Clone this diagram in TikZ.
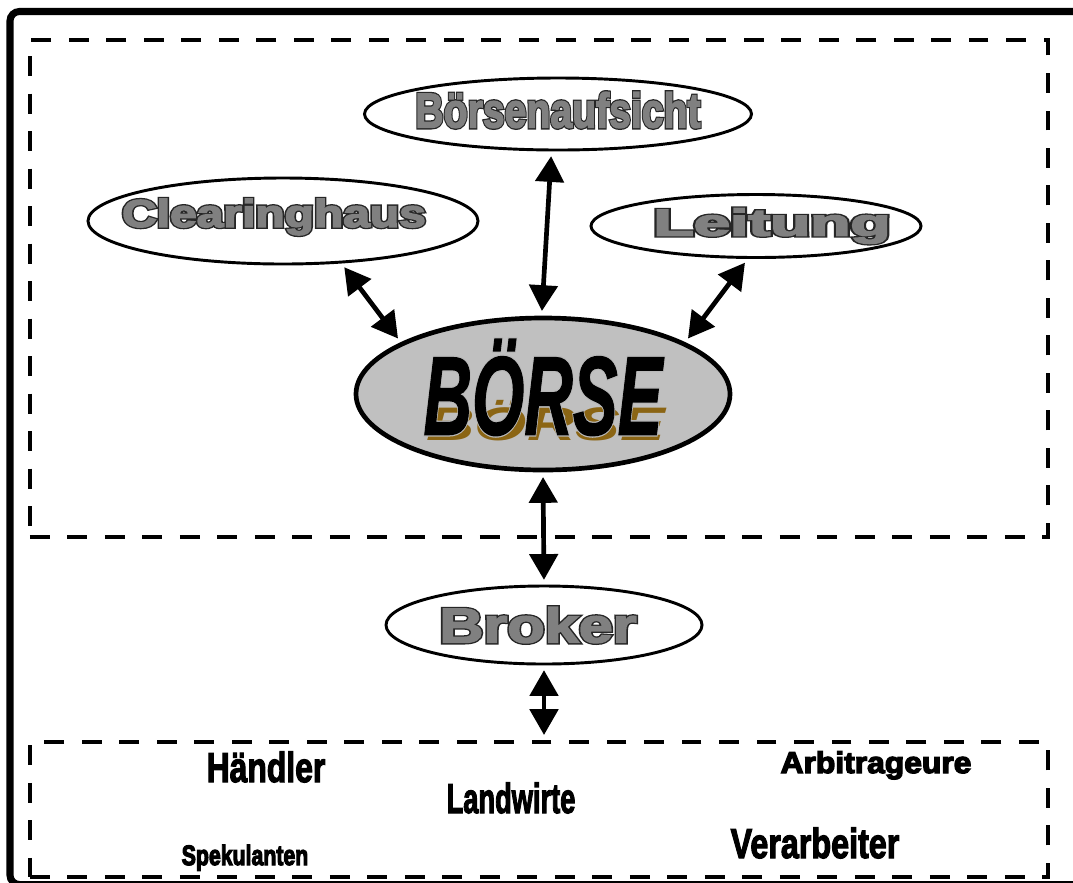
\documentclass[tikz,border=0pt]{standalone}
\usepackage{fontspec}
\setmainfont{Liberation Sans}
\usepackage{graphicx}
\usetikzlibrary{arrows.meta,shapes.geometric}

\definecolor{boersegrau}{RGB}{192,192,192}
\definecolor{schriftgrau}{RGB}{128,128,128}
\definecolor{boersebraun}{RGB}{139,101,20}

% outlined, heavier letters: #1 ring colour, #2 fill colour (as RG), #3 text
\newcommand{\umriss}[3]{\rlap{\special{pdf:literal direct 2 Tr 3.4 w #1 RG}#3\special{pdf:literal direct 0 Tr}}{\special{pdf:literal direct 2 Tr 1.2 w #2 RG}#3\special{pdf:literal direct 0 Tr}}}
% heavier black letters
\newcommand{\fett}[1]{{\special{pdf:literal direct 2 Tr 1.1 w 0 0 0 RG}#1\special{pdf:literal direct 0 Tr}}}
\newcommand{\groesse}[1]{\fontsize{#1}{#1}\selectfont}

\begin{document}
\begin{tikzpicture}[x=0.03cm, y=-0.03cm,
    % Node styles
    blase/.style={draw, ellipse, line width=2.5pt, fill=white, inner sep=0pt},
    gross/.style={draw, ellipse, line width=4pt, fill=boersegrau, inner sep=0pt},
    titel/.style={text=schriftgrau, font=\bfseries, inner sep=0pt},
    akteur/.style={font=\bfseries, anchor=base, inner sep=0pt},
    kasten/.style={draw, line width=4pt, dash pattern=on 17pt off 15pt, inner sep=0pt},
    pfeil/.style={{Triangle[length=22pt,width=24pt]}-{Triangle[length=22pt,width=24pt]}, line width=4pt, shorten <=4pt, shorten >=4pt}
]

% Outer frame
\clip (0,0) rectangle (1073,882);
\draw[line width=6pt, rounded corners=8pt] (10,11.5) rectangle (1110,884.5);

% Dashed areas
\node[kasten, minimum width=30.54cm, minimum height=14.91cm] (boersenraum) at (539,288.5) {};
\node[kasten, minimum width=30.54cm, minimum height=4.05cm] (akteure) at (539,809.5) {};

% Ellipse nodes
\node[blase, minimum width=11.61cm, minimum height=2.16cm,
    label={[titel, yshift=0.12cm]center:{\groesse{41.8pt}\scalebox{0.8}[1]{\umriss{0.15 0.15 0.15}{0.5 0.5 0.5}{Börsenaufsicht}}}}] (aufsicht) at (558,114) {};
\node[blase, minimum width=11.7cm, minimum height=2.58cm,
    label={[titel, xshift=-0.27cm, yshift=0.12cm]center:{\groesse{33pt}\scalebox{1.24}[1]{\umriss{0.15 0.15 0.15}{0.5 0.5 0.5}{Clearinghaus}}}}] (clear) at (283,221) {};
\node[blase, minimum width=9.9cm, minimum height=1.89cm,
    label={[titel, xshift=0.48cm]center:{\groesse{32pt}\scalebox{1.75}[1]{\umriss{0.15 0.15 0.15}{0.5 0.5 0.5}{Leitung}}}}] (leitung) at (756,226) {};
\node[gross, minimum width=11.22cm, minimum height=4.56cm,
    label={[inner sep=0pt, font=\bfseries\itshape, yshift=0.12cm]center:{\groesse{95.6pt}\scalebox{0.6}[1]{\rlap{\kern4pt\raisebox{-5pt}{\color{boersebraun}\scalebox{1}[0.42]{BÖRSE}}}\umriss{0.72 0.72 0.72}{0 0 0}{BÖRSE}}}}] (boerse) at (543,394) {};
\node[blase, minimum width=9.48cm, minimum height=2.34cm,
    label={[titel, xshift=-0.18cm]center:{\groesse{41.8pt}\scalebox{1.25}[1]{\umriss{0.15 0.15 0.15}{0.5 0.5 0.5}{Broker}}}}] (broker) at (544,625) {};

% Market participants
\node[akteur] (haendler) at (266,782) {\groesse{35.8pt}\scalebox{0.76}[1]{\fett{Händler}}};
\node[akteur] (landwirte) at (511,813) {\groesse{35.8pt}\scalebox{0.65}[1]{\fett{Landwirte}}};
\node[akteur] (spekulanten) at (245,865) {\groesse{23.9pt}\scalebox{0.76}[1]{\fett{Spekulanten}}};
\node[akteur] (arbitrageure) at (876,773) {\groesse{25.6pt}\scalebox{1.06}[1]{\fett{Arbitrageure}}};
\node[akteur] (verarbeiter) at (815,858) {\groesse{35.8pt}\scalebox{0.77}[1]{\fett{Verarbeiter}}};

% Arrows
\draw[pfeil] (clear.-36) -- (boerse.160);
\draw[pfeil] (aufsicht.-100) -- (boerse.91);
\draw[pfeil] (leitung.-104) -- (boerse.20);
\draw[pfeil] (boerse.south) -- (broker.north);
\draw[pfeil] (broker.south) -- (broker.south |- akteure.north);

\end{tikzpicture}
\end{document}
